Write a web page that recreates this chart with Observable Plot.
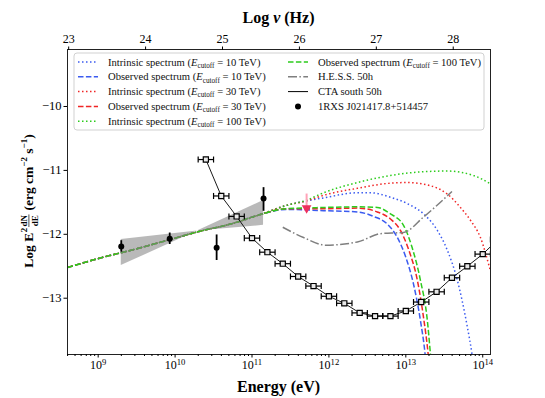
<!DOCTYPE html>
<html><head><meta charset="utf-8">
<script src="https://cdn.jsdelivr.net/npm/d3@7"></script>
<script src="https://cdn.jsdelivr.net/npm/@observablehq/plot@0.6"></script>
<style>html,body{margin:0;padding:0;background:#fff;}</style>
</head><body><div id="chart"></div>
<script>
// ---------- tick values ----------
const xTicks = [9, 10, 11, 12, 13, 14];          // log10 E (eV)
const nuTicks = [23, 24, 25, 26, 27, 28];        // log10 nu (Hz)
const yTicks = [-10, -11, -12, -13];
const eVtoHz = 14.3836;                          // log10(2.418e14 Hz/eV)

// ---------- model curves (log E, log E^2 dN/dE) ----------
const commonE = [8.60, 9.03, 9.49, 9.91, 10.33, 10.72, 11.11];
const commonF = [-12.52, -12.37, -12.23, -12.09, -11.95, -11.84, -11.69];

const int10E = [11.44, 11.70, 11.93, 12.37, 12.54, 12.80, 13.02, 13.23, 13.41, 13.54, 13.67, 13.80, 13.86, 13.89];
const int10F = [-11.55, -11.48, -11.43, -11.35, -11.35, -11.42, -11.52, -11.68, -11.94, -12.25, -12.72, -13.45, -13.87, -14.13];
const obs10E = [11.44, 11.93, 12.37, 12.58, 12.76, 12.89, 13.00, 13.10, 13.19, 13.25, 13.27];
const obs10F = [-11.61, -11.63, -11.65, -11.72, -11.84, -12.05, -12.36, -12.78, -13.35, -13.87, -14.13];
const int30E = [11.44, 11.70, 11.93, 12.37, 12.80, 13.02, 13.32, 13.54, 13.71, 13.84, 13.97, 14.10, 14.17];
const int30F = [-11.55, -11.48, -11.39, -11.28, -11.20, -11.19, -11.24, -11.37, -11.58, -11.78, -12.05, -12.57, -12.88];
const obs30E = [11.44, 11.93, 12.37, 12.63, 12.80, 12.93, 13.04, 13.15, 13.23, 13.29, 13.31];
const obs30F = [-11.60, -11.60, -11.59, -11.65, -11.76, -11.94, -12.25, -12.72, -13.30, -13.87, -14.13];
const int100E = [11.44, 11.70, 11.93, 12.37, 12.80, 13.23, 13.54, 13.88, 14.10, 14.19];
const int100F = [-11.55, -11.47, -11.35, -11.19, -11.08, -11.02, -11.01, -11.08, -11.21, -11.28];
const obs100E = [11.44, 11.93, 12.37, 12.63, 12.80, 12.97, 13.08, 13.19, 13.28, 13.32, 13.34];
const obs100F = [-11.60, -11.58, -11.57, -11.58, -11.68, -11.86, -12.20, -12.72, -13.35, -13.87, -14.13];

// ---------- H.E.S.S. 50h sensitivity ----------
const hessE = [11.40, 11.67, 11.96, 12.37, 12.67, 12.97, 13.23, 13.60];
const hessF = [-11.89, -12.05, -12.17, -12.12, -11.99, -11.97, -11.73, -11.33];

// ---------- CTA south 50h sensitivity ----------
const ctaE = [10.4, 10.6, 10.8, 11.0, 11.2, 11.4, 11.6, 11.8, 12.0, 12.2, 12.4, 12.6, 12.8, 13.0, 13.2, 13.4, 13.6, 13.8, 14.0, 14.2];
const ctaF = [-10.83, -11.40, -11.72, -12.06, -12.28, -12.46, -12.66, -12.81, -12.97, -13.08, -13.23, -13.28, -13.28, -13.20, -13.06, -12.90, -12.68, -12.50, -12.31, -12.08];
const ctaHalfBin = 0.1;

// ---------- 1RXS J021417.8+514457 (Fermi-LAT points) ----------
const srcE = [9.30, 9.93, 10.54, 11.15];
const srcF = [-12.19, -12.07, -12.21, -11.44];
const srcLo = [-12.28, -12.16, -12.41, -11.64];
const srcHi = [-12.10, -11.98, -12.01, -11.27];

// ---------- butterfly ----------
const bowE = [9.30, 10.29, 11.15];
const bowLo = [-12.49, -11.95, -11.86];
const bowHi = [-12.08, -11.95, -11.47];

// ---------- upper limit arrow ----------
const ulE = [11.71];
const ulTop = [-11.37];
const ulBottom = [-11.59];

// ---------- styles ----------
const blue = "#3b5bf0", red = "#f02525", green = "#2ccc1c", hessGray = "#7f7f7f";
const dotted = "1.5,2.5", dashed = "5.5,2.4", dashdot = "9,2.4,1.5,2.4";

const rows = (E, F) => E.map((e, i) => ({E: e, F: F[i]}));
const curves = [
  {E: commonE.concat(int10E), F: commonF.concat(int10F), stroke: blue, dash: dotted},
  {E: commonE.concat(obs10E), F: commonF.concat(obs10F), stroke: blue, dash: dashed},
  {E: commonE.concat(int30E), F: commonF.concat(int30F), stroke: red, dash: dotted},
  {E: commonE.concat(obs30E), F: commonF.concat(obs30F), stroke: red, dash: dashed},
  {E: commonE.concat(int100E), F: commonF.concat(int100F), stroke: green, dash: dotted},
  {E: commonE.concat(obs100E), F: commonF.concat(obs100F), stroke: green, dash: dashed}
];
const cta = rows(ctaE, ctaF);
const src = srcE.map((e, i) => ({E: e, F: srcF[i], lo: srcLo[i], hi: srcHi[i]}));
const bow = bowE.map((e, i) => ({E: e, lo: bowLo[i], hi: bowHi[i]}));
const ul = ulE.map((e, i) => ({E: e, top: ulTop[i], bottom: ulBottom[i]}));

const minorTicks = [];
for (let n = 8; n <= 14; n++) for (let k = 2; k <= 9; k++) {
  const v = n + Math.log10(k);
  if (v > 8.6 && v < 14.1) minorTicks.push(v);
}
const vbar = {draw(ctx, size) { const h = Math.sqrt(size) / 2; ctx.moveTo(0, -h); ctx.lineTo(0, h); }};

const serif = "'Liberation Serif', 'DejaVu Serif', serif";

const plot = Plot.plot({
  width: 545, height: 398,
  marginLeft: 67, marginRight: 55, marginTop: 49, marginBottom: 44,
  x: {domain: [8.601, 14.101], axis: null},
  y: {domain: [-13.881, -9.108], axis: null},
  style: {fontFamily: serif, fontSize: "12px", background: "white", color: "black"},
  marks: [
    ...curves.map(c => Plot.line(rows(c.E, c.F), {x: "E", y: "F", stroke: c.stroke, strokeWidth: 1.5, strokeDasharray: c.dash, strokeLinecap: "butt", curve: "monotone-x", clip: true})),
    Plot.line(rows(hessE, hessF), {x: "E", y: "F", stroke: hessGray, strokeWidth: 1.5, strokeDasharray: dashdot, strokeLinecap: "butt", curve: "monotone-x", clip: true}),
    Plot.areaY(bow, {x: "E", y1: "lo", y2: "hi", fill: "gray", fillOpacity: 0.55}),
    Plot.line(cta, {x: "E", y: "F", stroke: "black", strokeWidth: 0.9, clip: true}),
    Plot.link(cta, {x1: d => d.E - ctaHalfBin, x2: d => d.E + ctaHalfBin, y1: "F", y2: "F", stroke: "black", strokeWidth: 1.2, clip: true}),
    Plot.dot(cta, {x: d => d.E - ctaHalfBin, y: "F", symbol: vbar, r: 3.4, stroke: "black", strokeWidth: 1.2, clip: true}),
    Plot.dot(cta, {x: d => d.E + ctaHalfBin, y: "F", symbol: vbar, r: 3.4, stroke: "black", strokeWidth: 1.2, clip: true}),
    Plot.dot(cta, {x: "E", y: "F", symbol: "square", r: 2.9, stroke: "black", fill: "#e8e8e8", strokeWidth: 1.2, clip: true}),
    Plot.ruleX(src, {x: "E", y1: "lo", y2: "hi", stroke: "black", strokeWidth: 1.8}),
    Plot.dot(src, {x: "E", y: "F", r: 3, fill: "black"}),
    Plot.ruleX(ul, {x: "E", y1: "top", y2: "bottom", stroke: "#ffa3b8", strokeWidth: 2}),
    Plot.dot(ul, {x: "E", y: "bottom", symbol: "triangle", rotate: 180, r: 3.6, fill: "#ee2f5e"}),
    Plot.frame({stroke: "#222", strokeWidth: 1}),
    Plot.axisY({ticks: yTicks, tickSize: 3.5, tickPadding: 2.5, fontSize: 12.5, label: null, tickFormat: d => `−${Math.abs(d)}`}),
    Plot.axisX({anchor: "bottom", ticks: xTicks, tickSize: 3.5, tickPadding: 2.5, fontSize: 12, label: null, tickFormat: d => `10^${d}`}),
    Plot.axisX({anchor: "bottom", ticks: minorTicks, tickSize: 2, tickFormat: () => "", label: null}),
    Plot.axisX({anchor: "top", ticks: nuTicks.map(v => v - eVtoHz), tickSize: 3.5, tickPadding: 3, fontSize: 12, label: null, tickFormat: d => String(Math.round(d + eVtoHz))})
  ]
});
document.getElementById("chart").append(plot);

const svg = d3.select(plot);
// superscript exponents on the energy axis
svg.selectAll("text").each(function () {
  const m = this.textContent.match(/^10\^(\d+)$/);
  if (m) {
    this.textContent = "10";
    d3.select(this).append("tspan").attr("dy", "-0.45em").attr("font-size", "0.72em").text(m[1]);
  }
});

// axis titles
const topTitle = svg.append("text").attr("x", 278.5).attr("y", 23).attr("text-anchor", "middle")
  .attr("font-family", serif).attr("font-weight", "bold").attr("font-size", 16).attr("fill", "black");
topTitle.append("tspan").text("Log ");
topTitle.append("tspan").attr("font-style", "italic").text("ν");
topTitle.append("tspan").text(" (Hz)");
svg.append("text").attr("x", 278.5).attr("y", 391.5).attr("text-anchor", "middle")
  .attr("font-family", serif).attr("font-weight", "bold").attr("font-size", 16).attr("fill", "black")
  .text("Energy (eV)");

// y label with fraction
const yl = svg.append("g").attr("transform", "translate(32.5,201) rotate(-90)").attr("text-anchor", "start");
const inner = yl.append("g");
let cx = 0;
function put(str, size, dy) {
  const t = inner.append("text").attr("x", cx).attr("y", dy).attr("font-family", serif)
    .attr("font-weight", "bold").attr("font-size", size).attr("fill", "black").attr("text-anchor", "start").text(str);
  const w = t.node().getComputedTextLength();
  cx += w;
  return w;
}
put("Log E", 13.5, 0);
cx += 0.5; put("2", 9, -5.5);
cx += 0.8;
{
  const fx = cx;
  const n = inner.append("text").attr("y", -5.2).attr("font-family", serif).attr("font-weight", "bold")
    .attr("font-size", 9).attr("fill", "black").attr("text-anchor", "middle").text("dN");
  const d = inner.append("text").attr("y", 5.6).attr("font-family", serif).attr("font-weight", "bold")
    .attr("font-size", 9).attr("fill", "black").attr("text-anchor", "middle").text("dE");
  const w = Math.max(n.node().getComputedTextLength(), d.node().getComputedTextLength()) + 1;
  n.attr("x", fx + w / 2); d.attr("x", fx + w / 2);
  inner.append("line").attr("x1", fx).attr("x2", fx + w).attr("y1", -3.6).attr("y2", -3.6)
    .attr("stroke", "black").attr("stroke-width", 0.7);
  cx += w + 0.5;
}
put(" (erg cm", 13.5, 0);
put("−2", 9, -5.5);
put(" s", 13.5, 0);
put("−1", 9, -5.5);
put(")", 13.5, 0);
inner.attr("transform", `translate(${-cx / 2},0)`);

// legend
const lg = svg.append("g").attr("font-family", serif).attr("font-size", 10.6).attr("text-anchor", "start");
lg.append("rect").attr("x", 74).attr("y", 53).attr("width", 410).attr("height", 77).attr("rx", 3)
  .attr("fill", "white").attr("fill-opacity", 0.85).attr("stroke", "#cccccc").attr("stroke-width", 0.9);
const rowY = [62, 76.8, 91.6, 106.4, 121.2];
const entries = [
  {col: 0, row: 0, kind: "line", stroke: blue, dash: dotted, label: ["Intrinsic spectrum (", "10"]},
  {col: 0, row: 1, kind: "line", stroke: blue, dash: dashed, label: ["Observed spectrum (", "10"]},
  {col: 0, row: 2, kind: "line", stroke: red, dash: dotted, label: ["Intrinsic spectrum (", "30"]},
  {col: 0, row: 3, kind: "line", stroke: red, dash: dashed, label: ["Observed spectrum (", "30"]},
  {col: 0, row: 4, kind: "line", stroke: green, dash: dotted, label: ["Intrinsic spectrum (", "100"]},
  {col: 1, row: 0, kind: "line", stroke: green, dash: dashed, label: ["Observed spectrum (", "100"]},
  {col: 1, row: 1, kind: "line", stroke: hessGray, dash: dashdot, text: "H.E.S.S. 50h"},
  {col: 1, row: 2, kind: "line", stroke: "black", dash: null, text: "CTA south 50h", width: 1},
  {col: 1, row: 3, kind: "dot", text: "1RXS J021417.8+514457"}
];
const colX = [[78, 98, 108], [288, 308, 318]];
for (const e of entries) {
  const [x1, x2, tx] = colX[e.col];
  const y = rowY[e.row];
  if (e.kind === "line") {
    const l = lg.append("line").attr("x1", x1).attr("x2", x2).attr("y1", y).attr("y2", y)
      .attr("stroke", e.stroke).attr("stroke-width", e.width || 1.5);
    if (e.dash) l.attr("stroke-dasharray", e.dash);
  } else {
    lg.append("circle").attr("cx", (x1 + x2) / 2).attr("cy", y).attr("r", 3).attr("fill", "black");
  }
  const t = lg.append("text").attr("x", tx).attr("y", y + 3.6).attr("fill", "#111").attr("text-anchor", "start");
  if (e.text) t.text(e.text);
  else {
    t.append("tspan").text(e.label[0]);
    t.append("tspan").attr("font-style", "italic").text("E");
    t.append("tspan").attr("font-size", "0.68em").attr("dy", "0.3em").text("cutoff");
    t.append("tspan").attr("dy", "-0.2em").text(` = ${e.label[1]} TeV)`);
  }
}
</script>
</body></html>
